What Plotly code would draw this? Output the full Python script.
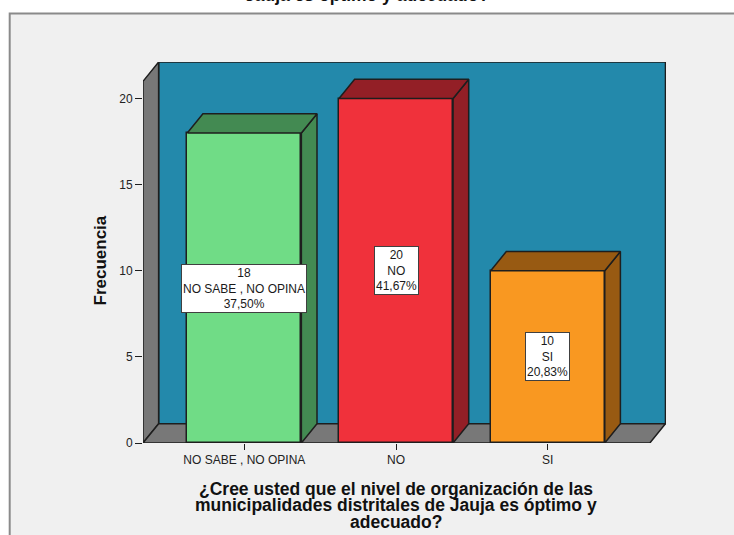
import plotly.graph_objects as go

# ---------------- data ----------------
categories = ["NO SABE , NO OPINA", "NO", "SI"]
frequencies = [18, 20, 10]
percents = ["37,50%", "41,67%", "20,83%"]
y_ticks = [0, 5, 10, 15, 20]
wall_top = 21
title_text = "Jauja es óptimo y adecuado?"
y_title = "Frecuencia"
x_title_lines = [
    "¿Cree usted que el nivel de organización de las",
    "municipalidades distritales de Jauja es óptimo y",
    "adecuado?",
]

# ---------------- styles ----------------
front_colors = ["#70DC86", "#F0313B", "#F99821"]
shade_colors = ["#438A52", "#931F26", "#985A12"]
wall_blue = "#2389AB"
wall_gray = "#787878"
edge = "#1E1E1E"
FONT = "Liberation Sans, Arial, sans-serif"

DX = 0.103      # depth offset in category units
DY = 1.121      # depth offset in value units
HALF = 0.376    # half bar width
X0, X1 = -0.668, 2.673
XR = [-0.668, 2.7796]
YR = [0, 22.125]

W, H = 734, 535
ML, MR, MT, MB = 143, 68, 62, 92
PW = W - ML - MR
PH = H - MT - MB


def px_to_paper_x(px):
    return (px - ML) / PW


def px_to_paper_y(py):
    return (H - MB - py) / PH


def path(xs, ys):
    pts = " L ".join(f"{x},{y}" for x, y in zip(xs, ys))
    return f"M {pts} Z"


fig = go.Figure()

shapes = []
# frame background
shapes.append(dict(type="rect", xref="paper", yref="paper",
                   x0=px_to_paper_x(9.7), x1=px_to_paper_x(760),
                   y0=px_to_paper_y(13.5), y1=px_to_paper_y(560),
                   fillcolor="#F0F0F0", line=dict(color="#8A8A8A", width=2),
                   layer="below"))
# back wall
shapes.append(dict(type="path", xref="x", yref="y", layer="below",
                   path=path([X0 + DX, X1 + DX, X1 + DX, X0 + DX],
                             [DY, DY, wall_top + DY, wall_top + DY]),
                   fillcolor=wall_blue, line=dict(color=edge, width=1.5)))
# left wall
shapes.append(dict(type="path", xref="x", yref="y", layer="below",
                   path=path([X0, X0, X0 + DX, X0 + DX],
                             [0, wall_top, wall_top + DY, DY]),
                   fillcolor=wall_gray, line=dict(color=edge, width=1.5)))
# floor
shapes.append(dict(type="path", xref="x", yref="y", layer="below",
                   path=path([X0, X1, X1 + DX, X0 + DX], [0, 0, DY, DY]),
                   fillcolor=wall_gray, line=dict(color=edge, width=1.5)))

# front faces
fig.add_trace(go.Bar(
    x=list(range(len(categories))), y=frequencies, width=2 * HALF,
    marker=dict(color=front_colors, line=dict(color=edge, width=1.5)),
    hoverinfo="skip", showlegend=False))

# sides and tops
for i, v in enumerate(frequencies):
    xs = [i + HALF, i + HALF + DX, i + HALF + DX, i + HALF, i + HALF]
    ys = [0, DY, v + DY, v, 0]
    fig.add_trace(go.Scatter(x=xs, y=ys, mode="lines", fill="toself",
                             fillcolor=shade_colors[i],
                             line=dict(color=edge, width=1.5),
                             hoverinfo="skip", showlegend=False))
    xs = [i - HALF, i + HALF, i + HALF + DX, i - HALF + DX, i - HALF]
    ys = [v, v, v + DY, v + DY, v]
    fig.add_trace(go.Scatter(x=xs, y=ys, mode="lines", fill="toself",
                             fillcolor=shade_colors[i],
                             line=dict(color=edge, width=1.5),
                             hoverinfo="skip", showlegend=False))

annotations = []
for i, (c, v, p) in enumerate(zip(categories, frequencies, percents)):
    annotations.append(dict(x=i, y=v / 2, xref="x", yref="y",
                            text=f"{v}<br>{c}<br>{p}", showarrow=False,
                            bgcolor="white", bordercolor="#404040",
                            borderwidth=1, borderpad=1,
                            font=dict(family=FONT, size=12, color="#1A1A1A")))

# partially visible chart title
annotations.append(dict(x=px_to_paper_x(243), y=px_to_paper_y(-5.5),
                        xref="paper", yref="paper", xanchor="left",
                        yanchor="middle", text=f"<b>{title_text}</b>",
                        showarrow=False,
                        font=dict(family=FONT, size=17.5, color="#111111")))
# y title
annotations.append(dict(x=px_to_paper_x(100), y=px_to_paper_y(260.5),
                        xref="paper", yref="paper", textangle=-90,
                        text=f"<b>{y_title}</b>", showarrow=False,
                        xanchor="center", yanchor="middle",
                        font=dict(family=FONT, size=17, color="#111111")))
# x title lines
for k, (line, cy) in enumerate(zip(x_title_lines, [488.5, 504.5, 521.5])):
    annotations.append(dict(x=1, y=px_to_paper_y(cy), xref="x", yref="paper",
                            text=f"<b>{line}</b>", showarrow=False,
                            xanchor="center", yanchor="middle",
                            font=dict(family=FONT, size=17.5, color="#111111")))

fig.update_layout(
    width=W, height=H,
    margin=dict(l=ML, r=MR, t=MT, b=MB, pad=0),
    paper_bgcolor="white", plot_bgcolor="rgba(0,0,0,0)",
    shapes=shapes, annotations=annotations, showlegend=False,
    bargap=0,
    xaxis=dict(range=XR, tickvals=list(range(len(categories))),
               ticktext=categories, ticks="outside", ticklen=6,
               tickwidth=1, tickcolor=edge, showgrid=False, zeroline=False,
               showline=False, fixedrange=True,
               tickfont=dict(family=FONT, size=12, color="#222222")),
    yaxis=dict(range=YR, tickvals=y_ticks, ticks="outside", ticklen=7,
               tickwidth=1, tickcolor=edge, showgrid=False, zeroline=False,
               showline=False, fixedrange=True,
               tickfont=dict(family=FONT, size=12, color="#222222")),
)

fig.write_html("out.html")
